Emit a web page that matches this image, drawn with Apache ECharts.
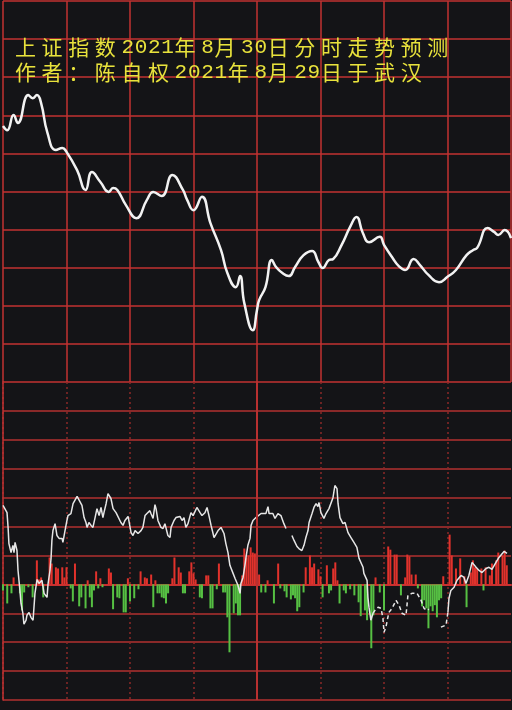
<!DOCTYPE html>
<html>
<head>
<meta charset="utf-8">
<title>上证指数2021年8月30日分时走势预测</title>
<script src="https://cdn.jsdelivr.net/npm/echarts@6/dist/echarts.min.js"></script>
<style>
html, body { margin: 0; padding: 0; background: #141417; }
#chart { width: 512px; height: 710px; }
</style>
</head>
<body>
<div id="chart"></div>
<script>
// 标题
const titleLines = ['上证指数2021年8月30日分时走势预测', '作者：陈自权2021年8月29日于武汉'];

// 分时价格（分钟, 指数）
const priceMinutes = [0, 2, 5, 7, 12, 14, 16, 18, 21, 25, 28, 30, 35, 39, 42, 46, 50, 52, 54, 58, 63, 68, 71, 75, 80, 85, 87, 90, 94, 98, 103, 106, 110, 112, 114, 118, 120, 121, 124, 127, 129, 132, 135, 138, 142, 146, 149, 151, 154, 156, 160, 164, 167, 170, 173, 178, 180, 184, 187, 190, 194, 197, 201, 206, 210, 214, 219, 222, 224, 229, 232, 234, 237, 240];
const priceValues = [3527.2, 3526.1, 3530.1, 3528.0, 3535.3, 3534.5, 3535.3, 3533.2, 3525.4, 3520.9, 3521.4, 3520.4, 3515.6, 3510.4, 3515.1, 3512.5, 3509.9, 3510.9, 3510.4, 3506.5, 3503.0, 3507.8, 3509.9, 3508.8, 3514.3, 3510.4, 3507.8, 3505.1, 3508.6, 3501.7, 3494.6, 3488.6, 3484.9, 3487.8, 3480.7, 3473.6, 3478.9, 3481.5, 3484.9, 3492.0, 3490.2, 3488.6, 3487.8, 3490.2, 3493.3, 3494.4, 3491.5, 3489.9, 3492.0, 3492.3, 3496.0, 3500.7, 3503.3, 3499.1, 3496.7, 3498.1, 3496.0, 3492.6, 3490.4, 3489.4, 3492.3, 3490.7, 3488.1, 3486.2, 3487.6, 3489.4, 3493.3, 3494.6, 3495.2, 3500.4, 3499.4, 3498.6, 3499.9, 3497.8];

// 下方红绿柱（分钟, 数值）
const barMinutes = [0, 2, 4, 5, 8, 9, 10, 12, 14, 16, 17, 18, 19, 22, 23, 25, 26, 28, 29, 30, 32, 33, 34, 36, 37, 39, 40, 41, 42, 43, 44, 45, 46, 47, 50, 51, 52, 54, 55, 57, 58, 59, 60, 62, 64, 65, 67, 68, 70, 71, 72, 73, 74, 75, 76, 77, 78, 80, 81, 83, 84, 85, 86, 88, 89, 90, 91, 93, 94, 96, 97, 98, 99, 101, 102, 104, 105, 106, 107, 109, 110, 111, 112, 113, 114, 115, 116, 117, 118, 119, 120, 121, 122, 124, 125, 128, 130, 131, 133, 134, 136, 137, 138, 139, 140, 142, 143, 145, 146, 147, 149, 150, 151, 153, 154, 155, 156, 157, 158, 159, 161, 162, 164, 166, 168, 169, 171, 172, 174, 175, 176, 178, 180, 182, 183, 185, 186, 188, 190, 191, 192, 193, 195, 196, 198, 199, 200, 201, 202, 203, 204, 205, 206, 207, 208, 211, 212, 214, 216, 218, 219, 221, 222, 223, 224, 226, 227, 228, 230, 231, 233, 234, 236, 237, 238];
const barValues = [-21, -66, -31, 24, -31, -90, -28, -10, -45, 83, 17, 24, -45, 93, 72, 59, 55, 59, 24, 59, -14, -59, 72, -76, -45, -83, 14, -45, -79, -21, 45, -14, 21, -10, 55, 41, -86, -45, -48, -97, -97, 21, -59, -48, -17, 45, 24, 21, 34, -79, 14, -31, -31, -45, -48, -66, -31, 21, 93, 59, 41, -31, -31, 45, 76, 38, 17, -45, -48, 31, 31, -83, -83, -17, 72, -28, -28, -114, -235, -100, -66, -107, -107, 31, 124, 93, 100, 128, 110, 107, 128, 34, -28, -28, 14, -66, 72, -14, -24, -45, -52, -38, -48, -93, -79, -28, 59, 100, 59, 72, 52, 28, -45, 66, -31, -21, 55, 76, 14, -66, -21, -31, -17, -38, -62, -110, -90, -124, -221, -107, 24, -28, -90, 131, 120, 103, 103, -38, 24, 103, 97, 34, 34, -14, -76, -55, -83, -152, -76, -93, -72, -114, -55, -48, 28, 172, 100, 55, 90, 28, -79, 41, 83, 59, 55, 55, -21, 59, 31, 72, 83, 110, 100, 117, 66];

// 下方白线（分钟, 数值），null 为断开处
const indMinutes = [0, 0.9, 1.9, 2.4, 2.8, 3.8, 4.7, 5.2, 5.7, 6.6, 7.1, 8.0, 8.5, 9.4, 9.9, 10.9, 11.3, 12.3, 13.2, 14.2, 14.6, 15.1, 16.1, 17.0, 18.4, 19.4, 20.8, 21.3, 22.2, 22.7, 23.1, 23.6, 24.6, 25.5, 26.5, 27.9, 28.3, 29.3, 30.2, 30.7, 32.1, 33.1, 35.0, 35.9, 37.3, 38.3, 39.2, 39.7, 40.6, 41.6, 42.5, 43.5, 44.4, 45.4, 46.3, 47.2, 47.7, 48.7, 49.6, 51.0, 52.0, 53.4, 54.3, 55.7, 56.7, 57.6, 59.1, 60.5, 61.4, 62.4, 63.8, 65.2, 66.1, 67.1, 68.0, 69.4, 69.9, 70.9, 71.8, 72.3, 73.2, 74.6, 75.6, 76.5, 77.9, 78.9, 79.4, 80.8, 81.7, 83.6, 84.6, 85.5, 86.4, 87.4, 88.8, 89.8, 90.7, 91.6, 93.1, 94.0, 95.4, 96.4, 97.3, 98.3, 99.7, 100.6, 101.6, 103.0, 104.4, 105.3, 106.3, 107.2, 108.7, 109.6, 110.1, 111.0, 112.0, 112.4, 113.4, 114.3, 114.8, 115.7, 116.7, 117.2, 118.1, 119.5, 121.9, 124.2, 125.2, 125.7, 127.5, 128.5, 129.9, 131.3, 132.7, 133.7, 135, 136.5, 137.5, 138.9, 139.8, 141.2, 142.2, 143.1, 144.1, 144.6, 146.0, 146.9, 147.9, 148.8, 149.3, 150.2, 151.6, 152.6, 154.0, 154.9, 155.9, 156.8, 157.8, 158.3, 159.2, 160.6, 161.6, 163.0, 164.4, 165.8, 167.2, 168.2, 170.1, 170.5, 172.0, 172.4, 172.9, 173.8, 174.8, 175.7, 177.2, 178.6, 179.5, 180.0, 180.9, 182.3, 183.8, 185.7, 187.1, 188.5, 190.4, 191.3, 193.2, 195.6, 197.5, 198.9, 200.3, 201.2, 204, 206.9, 209.3, 210.2, 210.7, 211.6, 213.1, 214.5, 216.4, 217.8, 218.7, 220.1, 221.6, 223.5, 224.9, 226.3, 228.2, 229.6, 231.0, 232.9, 234.3, 236.7, 238.1];
const indValues = [273, 279, 248, 197, 141, 110, 135, 110, 145, 117, 48, -21, -66, -100, -138, -124, -107, -97, -114, -124, -124, -31, 17, 3, 14, -31, -45, 3, 48, 90, 152, 186, 210, 169, 159, 159, 145, 186, 221, 238, 245, 279, 304, 300, 273, 231, 214, 197, 214, 204, 197, 231, 262, 238, 266, 231, 248, 279, 314, 297, 262, 248, 245, 214, 204, 221, 235, 179, 169, 186, 176, 186, 197, 238, 245, 255, 245, 228, 276, 262, 221, 197, 193, 210, 169, 162, 197, 221, 231, 235, 221, 231, 197, 210, 248, 238, 238, 266, 248, 238, 248, 266, 238, 204, 162, 162, 186, 197, 176, 141, 110, 66, 38, 21, 24, -3, -31, 3, 24, 66, 93, 135, 159, 204, 221, 231, 245, 245, 269, 245, 245, 228, 245, 238, 210, 193, null, 169, 152, 131, 124, 117, 135, 162, 186, 214, 245, 266, 279, 269, 283, 248, 228, 245, 262, 266, 300, 342, 331, 279, 231, 210, 214, 179, 162, 145, 128, 90, 59, 38, 14, -45, -79, -124, -100, -90, -79, -83, -117, -166, -148, -97, -83, -55, -72, -100, -107, -38, -31, -31, -55, -83, -90, -86, null, -148, -141, -97, -48, -21, -10, 14, 31, 24, 3, 31, 76, 59, 48, 41, 55, 59, 52, 76, 93, 114, 107];
// 虚线段范围（分钟）
const dashFrom = 174.8;
const dashTo = 210.2;

// 标题逐字排版
function toRich(line) {
  return Array.from(line).map(ch => /[0-9]/.test(ch) ? '{d|' + ch + '}' : '{h|' + ch + '}').join('');
}

const solidPart = [];
const dashPart = [];
indMinutes.forEach((m, i) => {
  const v = indValues[i];
  solidPart.push([m, (m > dashFrom && m < dashTo) ? null : v]);
  if (m >= dashFrom && m <= dashTo) dashPart.push([m, v]);
});

const gridRed = '#c23232';
const darkRed = '#8a2929';
const hidden = { axisLine: { show: false }, axisTick: { show: false }, axisLabel: { show: false } };

let myChart = echarts.init(document.getElementById('chart'));
myChart.setOption({
  animation: false,
  backgroundColor: '#141417',
  title: {
    left: 15,
    top: 35,
    padding: 0,
    text: titleLines.map(toRich).join('\n'),
    textStyle: {
      color: '#e8e23c',
      rich: {
        h: { width: 26.6, fontSize: 21, fontWeight: 'normal', lineHeight: 25, color: '#e8e23c', fontFamily: '"Noto Sans CJK SC"' },
        d: { width: 13.3, fontSize: 21, fontWeight: 'normal', lineHeight: 25, color: '#e8e23c', fontFamily: '"Liberation Mono", "Noto Sans CJK SC"' }
      }
    }
  },
  grid: [
    { left: 3, right: 1, top: 1, height: 381 },
    { left: 3, right: 1, top: 382, height: 318 }
  ],
  xAxis: [
    {
      gridIndex: 0, type: 'value', min: 0, max: 240, interval: 30, ...hidden,
      splitLine: { show: true, lineStyle: { color: gridRed, width: 1.5 } }
    },
    {
      gridIndex: 1, type: 'value', min: 0, max: 240, interval: 30,
      axisLine: { show: true, onZero: true, lineStyle: { color: '#c83030', width: 2 } },
      axisTick: { show: false }, axisLabel: { show: false },
      splitLine: { show: true, showMaxLine: false, lineStyle: { color: darkRed, width: 1.5, type: [2, 3] } }
    }
  ],
  yAxis: [
    {
      gridIndex: 0, type: 'value', min: 3460, max: 3560, interval: 10, ...hidden,
      splitLine: { show: true, lineStyle: { color: gridRed, width: 1.5 } }
    },
    {
      gridIndex: 1, type: 'value', min: -400, max: 700, interval: 100,
      axisLine: { show: true, onZero: false, lineStyle: { color: gridRed, width: 1.5 } },
      axisTick: { show: false }, axisLabel: { show: false },
      splitLine: { show: true, showMaxLine: false, lineStyle: { color: darkRed, width: 2 } }
    }
  ],
  series: [
    {
      name: '走势',
      type: 'line',
      xAxisIndex: 0,
      yAxisIndex: 0,
      data: priceMinutes.map((m, i) => [m, priceValues[i]]),
      smooth: 0.5,
      showSymbol: false,
      lineStyle: { color: '#f2f2f2', width: 2.5 }
    },
    {
      name: '红绿柱',
      type: 'bar',
      xAxisIndex: 1,
      yAxisIndex: 1,
      barWidth: 2,
      data: barMinutes.map((m, i) => [m, barValues[i]]),
      itemStyle: {
        color: p => p.value[1] >= 0 ? '#e2322c' : '#56c043'
      },
      markLine: {
        silent: true,
        symbol: 'none',
        label: { show: false },
        lineStyle: { color: '#b83030', type: 'solid', width: 2 },
        data: [{ xAxis: 120 }]
      }
    },
    {
      name: '白线',
      type: 'line',
      xAxisIndex: 1,
      yAxisIndex: 1,
      data: solidPart,
      showSymbol: false,
      lineStyle: { color: '#e6e6e6', width: 1.5 }
    },
    {
      name: '白线虚',
      type: 'line',
      xAxisIndex: 1,
      yAxisIndex: 1,
      data: dashPart,
      showSymbol: false,
      lineStyle: { color: '#e6e6e6', width: 1.5, type: [4, 3] }
    }
  ]
});
</script>
</body>
</html>
